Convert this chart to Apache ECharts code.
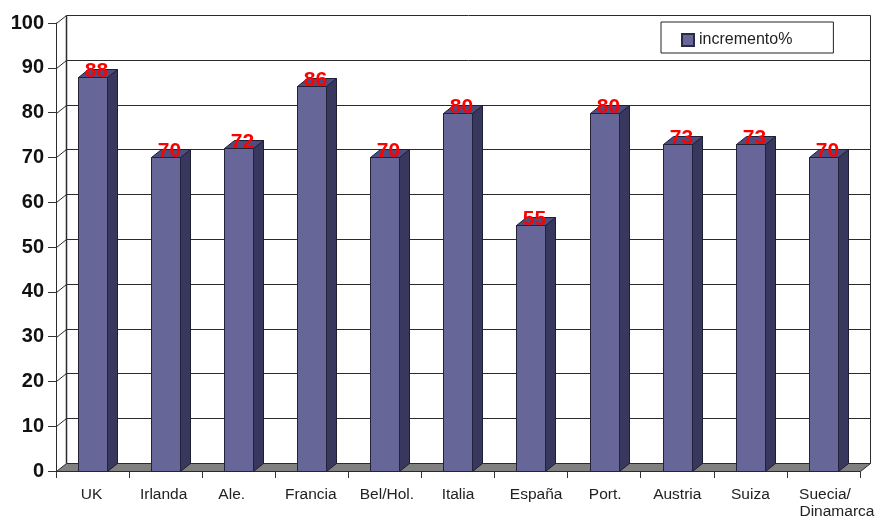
<!DOCTYPE html>
<html><head><meta charset="utf-8">
<style>html,body{margin:0;padding:0;background:#fff}#c{width:877px;height:518px}</style>
<script src="https://cdn.jsdelivr.net/npm/echarts@6/dist/echarts.min.js"></script>
</head><body><div id="c"></div>
<script>
const categories = ['UK','Irlanda','Ale.','Francia','Bel/Hol.','Italia','España','Port.','Austria','Suiza','Suecia/\nDinamarca'];
const increment = [88,70,72,86,70,80,55,80,73,73,70];
const gridTicks = [0,10,20,30,40,50,60,70,80,90,100];
const seriesName = 'incremento%';

const DX = 10, DY = -8, FONT = '"Liberation Sans", Arial, sans-serif';
const LINE = '#2b2b2b';
const chart = echarts.init(document.getElementById('c'), null, {renderer:'canvas'});

function wallItem(params, api){
  const v = api.value(0), cs = params.coordSys;
  const y = Math.round(api.coord([0,v])[1]) + 0.5;
  const l = cs.x + 0.5, r = cs.x + cs.width + 0.5;
  const kids = [];
  if (params.dataIndex === 0) {
    const t = Math.round(api.coord([0,100])[1]) + 0.5;
    kids.push({type:'polygon',shape:{points:[[l,y],[l+DX,y+DY],[r+DX,y+DY],[r,y]]},style:{fill:'#808080',stroke:LINE,lineWidth:1}});
    kids.push({type:'line',shape:{x1:l+DX,y1:y+DY,x2:l+DX,y2:t+DY},style:{stroke:LINE,lineWidth:1.5}});
    kids.push({type:'line',shape:{x1:r+DX,y1:y+DY,x2:r+DX,y2:t+DY},style:{stroke:LINE,lineWidth:1}});
    kids.push({type:'line',shape:{x1:l,y1:y,x2:l,y2:t},style:{stroke:LINE,lineWidth:1}});
  } else {
    kids.push({type:'line',shape:{x1:l+DX,y1:y+DY,x2:r+DX,y2:y+DY},style:{stroke:LINE,lineWidth:1}});
    kids.push({type:'line',shape:{x1:l,y1:y,x2:l+DX,y2:y+DY},style:{stroke:LINE,lineWidth:1}});
  }
  return {type:'group',children:kids};
}

function barItem(params, api){
  const c = api.coord([api.value(0), api.value(1)]);
  const base = api.coord([api.value(0), 0])[1];
  const w = api.size([1,0])[0] * 0.4;
  const x0 = Math.round(c[0]-w/2)+0.5, x1 = x0 + Math.round(w), y = Math.round(c[1])+0.5, y0 = Math.round(base)+0.5;
  return {type:'group',children:[
    {type:'polygon',shape:{points:[[x1,y],[x1+DX,y+DY],[x1+DX,y0+DY],[x1,y0]]},style:{fill:'#38385f',stroke:'#1f1f33',lineWidth:1}},
    {type:'polygon',shape:{points:[[x0,y],[x0+DX,y+DY],[x1+DX,y+DY],[x1,y]]},style:{fill:'#4d4d80',stroke:'#1f1f33',lineWidth:1}},
    {type:'rect',shape:{x:x0,y:y,width:x1-x0,height:y0-y},style:{fill:'#666699',stroke:'#222238',lineWidth:1}},
    {type:'text',x:(x0+x1)/2+3.5,y:y-6,style:{text:String(api.value(1)),fill:'#ff0000',font:'bold 21px '+FONT,align:'center',verticalAlign:'middle'}}
  ]};
}

// Small horizontal nudges of the category labels (px), done with empty spacer tokens
const labelNudge = [-1,-2,-7,-1,2,0,5,1,-3,0,0];
const LABEL_RICH = {s:{fontFamily:FONT,fontSize:15.5,color:'#222',lineHeight:17}};
[1,2,3,4,5,7,10,14,27,3].forEach(w => { LABEL_RICH['w'+w] = {width:w,lineHeight:17}; });
function formatLabel(v, i){
  if (v.includes('\n')) {
    const [a,b] = v.split('\n');
    return '{w3|}{s|'+a+'}\n{w27|}{s|'+b+'}';
  }
  const n = labelNudge[i];
  if (n > 0) return '{w'+(2*n)+'|}{s|'+v+'}';
  if (n < 0) return '{s|'+v+'}{w'+(-2*n)+'|}';
  return '{s|'+v+'}';
}

chart.setOption({
  animation:false,
  backgroundColor:'#fff',
  grid:{left:56,right:17,top:23,bottom:47,outerBoundsMode:'none'},
  legend:{
    left:661,top:22,orient:'horizontal',
    data:[{name:seriesName,icon:'rect'}],
    itemWidth:12,itemHeight:12,itemGap:4,
    padding:[10,41,5,20],
    borderColor:'#222',borderWidth:1,backgroundColor:'#fff',
    textStyle:{fontFamily:FONT,fontSize:16,color:'#222'},
    selectedMode:false
  },
  xAxis:{
    type:'category',data:categories,
    axisLine:{lineStyle:{color:'#222',width:1}},
    axisTick:{show:true,alignWithLabel:false,length:7,lineStyle:{color:'#333'}},
    axisLabel:{
      interval:0,margin:15,color:'#222',fontFamily:FONT,fontSize:15.5,lineHeight:17,hideOverlap:false,
      formatter:formatLabel,
      rich:LABEL_RICH
    }
  },
  yAxis:{
    type:'value',min:0,max:100,interval:10,
    axisLine:{show:true,lineStyle:{color:'#222',width:1}},
    axisTick:{show:true,length:8,lineStyle:{color:'#333'}},
    splitLine:{show:false},
    axisLabel:{margin:12,color:'#111',fontFamily:FONT,fontSize:20,fontWeight:'bold'}
  },
  series:[
    {type:'custom',name:'wall',renderItem:wallItem,data:gridTicks.map(v=>[v]),encode:{y:0},silent:true,z:1},
    {type:'custom',name:seriesName,renderItem:barItem,itemStyle:{color:'#666699',borderColor:'#2a2a44',borderWidth:1},
     data:increment.map((v,i)=>[i,v]),encode:{x:0,y:1},z:2}
  ]
});
</script></body></html>
